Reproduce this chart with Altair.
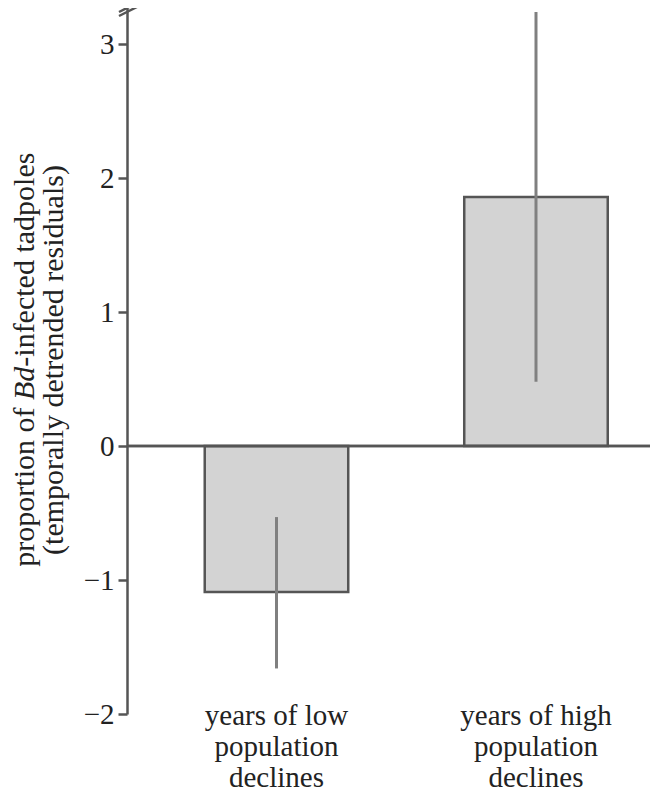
import altair as alt
import pandas as pd

# ---- data ----
categories = ["years of low|population|declines", "years of high|population|declines"]
means = [-1.09, 1.86]
err_low = [-1.66, 0.48]
err_high = [-0.53, 3.24]
y_ticks = [-2, -1, 0, 1, 2, 3]

df = pd.DataFrame({"cat": categories, "mean": means, "lo": err_low, "hi": err_high})

W, H = 520, 706
FONT = "Liberation Serif"
AXC = "#555555"
TXT = "#222222"

yscale = alt.Scale(domain=[-2, 3.27], nice=False, zero=False)
xscale = alt.Scale(paddingInner=0.447, paddingOuter=0.2254, align=0.6645)

x_enc = alt.X(
    "cat:N", sort=categories, scale=xscale,
    axis=alt.Axis(title=None, domain=False, ticks=False, tickSize=0,
                  labelAngle=0, labelExpr="split(datum.label, '|')",
                  labelFont=FONT, labelFontSize=29, labelLineHeight=31,
                  labelColor=TXT, labelPadding=-13, labelBaseline="top",
                  labelLimit=0),
)

y_axis = alt.Axis(title=None, values=y_ticks, format="d", grid=False,
                  domainColor=AXC, domainWidth=2.5,
                  tickColor=AXC, tickWidth=2.5, tickSize=9,
                  labelPadding=4, labelFont=FONT, labelFontSize=29,
                  labelColor=TXT)

base = alt.Chart(df)

bars = base.mark_bar(fill="#d3d3d3", stroke=AXC, strokeWidth=2.5).encode(
    x=x_enc,
    y=alt.Y("mean:Q", scale=yscale, axis=y_axis),
    y2=alt.datum(0),
)

zero = base.mark_rule(color=AXC, strokeWidth=2.5).encode(
    y=alt.datum(0), x=alt.value(0), x2=alt.value(W + 10))

errs = base.mark_rule(color="#808080", strokeWidth=3).encode(
    x=alt.X("cat:N", sort=categories, scale=xscale),
    y=alt.Y("lo:Q", scale=yscale),
    y2="hi:Q",
)

one = alt.Chart(pd.DataFrame({"d": [0]}))
tstyle = dict(angle=270, baseline="alphabetic", font=FONT, fontSize=30, color=TXT)
X1, X2 = -93, -64
t1a = one.mark_text(text="proportion of", align="right", **tstyle).encode(
    x=alt.value(X1), y=alt.value(399.5))
t1b = one.mark_text(text="Bd", align="left", fontStyle="italic", **tstyle).encode(
    x=alt.value(X1), y=alt.value(392))
t1c = one.mark_text(text="-infected tadpoles", align="left", **tstyle).encode(
    x=alt.value(X1), y=alt.value(358.7))
t2 = one.mark_text(text="(temporally detrended residuals)", align="center", **tstyle).encode(
    x=alt.value(X2), y=alt.value(352))

brk1 = one.mark_rule(color=AXC, strokeWidth=2.5).encode(
    x=alt.value(-8), x2=alt.value(10), y=alt.value(4), y2=alt.value(-5))
brk2 = one.mark_rule(color=AXC, strokeWidth=2.5).encode(
    x=alt.value(-8), x2=alt.value(10), y=alt.value(8), y2=alt.value(-1))

chart = alt.layer(bars, zero, errs, t1a, t1b, t1c, t2, brk1, brk2).properties(
    width=W, height=H,
    autosize=alt.AutoSizeParams(type="none"),
    padding={"left": 119, "top": 0, "right": 3, "bottom": 78},
).configure_view(stroke=None)

chart.save("out.html", embed_options={"renderer": "svg", "actions": False})
